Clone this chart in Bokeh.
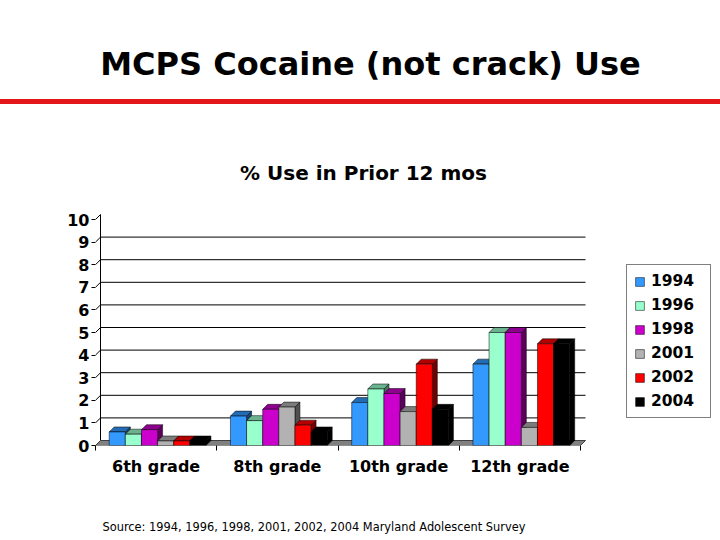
from bokeh.plotting import figure
from bokeh.layouts import column
from bokeh.models import Range1d, FixedTicker, Legend, LegendItem, Label, Div
from bokeh.embed import file_html
from bokeh.resources import INLINE

# data
grades = ["6th grade", "8th grade", "10th grade", "12th grade"]
years = ["1994", "1996", "1998", "2001", "2002", "2004"]
y1994 = [0.6, 1.3, 1.9, 3.6]
y1996 = [0.5, 1.1, 2.5, 5.0]
y1998 = [0.7, 1.6, 2.3, 5.0]
y2001 = [0.2, 1.7, 1.5, 0.8]
y2002 = [0.2, 0.9, 3.6, 4.5]
y2004 = [0.2, 0.6, 1.6, 4.5]
series = [y1994, y1996, y1998, y2001, y2002, y2004]
colors = ["#3399FF", "#99FFCC", "#CC00CC", "#B2B2B2", "#FF0000", "#000000"]
y_ticks = list(range(0, 11))

FONT = "DejaVu Sans"
W = 720


def shade(c, f):
    r, g, b = int(c[1:3], 16), int(c[3:5], 16), int(c[5:7], 16)
    return "#%02x%02x%02x" % (int(r * f), int(g * f), int(b * f))


def text_strip(h):
    # a plain figure used only to hold a text label; frame lines up with the chart
    f = figure(width=W, height=h, x_range=Range1d(0, 1), y_range=Range1d(0, 1),
               toolbar_location=None, tools="", output_backend="svg",
               min_border_left=95, min_border_right=0, min_border_top=0, min_border_bottom=0)
    f.axis.visible = False
    f.grid.visible = False
    f.outline_line_color = None
    return f


# header: slide title
head = text_strip(99)
head.add_layout(Label(x=275, y=36, x_units="screen", y_units="screen",
                      text="MCPS Cocaine (not crack) Use", text_align="center",
                      text_baseline="middle", text_font=FONT, text_font_style="bold",
                      text_font_size="32px", text_color="black"))

# red rule under the title
rule = Div(text="", width=W, height=5, margin=0, styles={"background-color": "#E3161B"})

# main chart: frame x 95..720 and y 104..445 on the page, value 0 at 445, 22.6 px per unit
unit_px = 121.25
x_end = 625 / unit_px
y_end = (445 - 104) / 22.6
dx = 5 / unit_px
dy = 5 / 22.6
w = 0.133

p = figure(width=W, height=394, x_range=Range1d(0, x_end), y_range=Range1d(0, y_end),
           toolbar_location=None, tools="", output_backend="svg",
           min_border_left=95, min_border_right=0, min_border_top=0, min_border_bottom=53)
p.grid.visible = False
p.outline_line_color = None

p.yaxis.ticker = FixedTicker(ticks=y_ticks)
p.yaxis.axis_line_color = None
p.yaxis.major_tick_out = 4
p.yaxis.major_tick_in = 0
p.yaxis.minor_tick_line_color = None
p.yaxis.major_label_standoff = 2
p.yaxis.major_label_text_font = FONT
p.yaxis.major_label_text_font_style = "bold"
p.yaxis.major_label_text_font_size = "16px"
p.yaxis.major_label_text_color = "black"

centers = [i + 0.5 for i in range(len(grades))]
p.xaxis.ticker = FixedTicker(ticks=centers, minor_ticks=list(range(len(grades) + 1)))
p.xaxis.major_label_overrides = {c: g for c, g in zip(centers, grades)}
p.xaxis.axis_line_color = None
p.xaxis.major_tick_line_color = None
p.xaxis.major_tick_out = 0
p.xaxis.major_tick_in = 0
p.xaxis.minor_tick_out = 5
p.xaxis.minor_tick_in = 0
p.xaxis.minor_tick_line_color = "black"
p.xaxis.major_label_standoff = 6
p.xaxis.major_label_text_font = FONT
p.xaxis.major_label_text_font_style = "bold"
p.xaxis.major_label_text_font_size = "16px"
p.xaxis.major_label_text_color = "black"

n = len(grades)
top_v = max(y_ticks)
# back wall gridlines, tick connectors and left wall edge
grid_vals = [v for v in y_ticks if 0 < v < top_v]
p.segment(x0=[dx] * len(grid_vals), y0=[v + dy for v in grid_vals],
          x1=[n + dx] * len(grid_vals), y1=[v + dy for v in grid_vals],
          line_color="black", line_width=1)
p.segment(x0=[0] * len(y_ticks), y0=y_ticks, x1=[dx] * len(y_ticks),
          y1=[v + dy for v in y_ticks], line_color="black", line_width=1)
p.segment(x0=[dx], y0=[dy], x1=[dx], y1=[top_v + dy], line_color="black", line_width=1)
# floor
p.patch([0, n, n + dx, dx], [0, 0, dy, dy], fill_color="#808080", line_color="#404040",
        line_width=1)

items = []
for j, (yr, vals, c) in enumerate(zip(years, series, colors)):
    xc = [k + 0.5 + (j - 2.5) * w + 0.012 for k in range(n)]
    side_xs = [[x + w / 2, x + w / 2 + dx, x + w / 2 + dx, x + w / 2] for x in xc]
    side_ys = [[0, dy, v + dy, v] for v in vals]
    top_xs = [[x - w / 2, x - w / 2 + dx, x + w / 2 + dx, x + w / 2] for x in xc]
    top_ys = [[v, v + dy, v + dy, v] for v in vals]
    p.patches(side_xs, side_ys, fill_color=shade(c, 0.45), line_color="black", line_width=0.5)
    p.patches(top_xs, top_ys, fill_color=shade(c, 0.7), line_color="black", line_width=0.5)
    r = p.vbar(x=xc, top=vals, bottom=0, width=w, fill_color=c, line_color="black",
               line_width=0.5)
    items.append(LegendItem(label=yr, renderers=[r]))

legend = Legend(items=items, location=(531, 27), border_line_color="black",
                border_line_width=1, background_fill_color="white", background_fill_alpha=1,
                glyph_width=11, glyph_height=11, label_standoff=6, padding=7, spacing=6,
                label_width=52, margin=0, label_text_font=FONT, label_text_font_style="bold",
                label_text_font_size="15.5px", label_text_color="black")
p.add_layout(legend)

# chart subtitle, inside the frame above the plotting area
p.add_layout(Label(x=268, y=273, x_units="screen", y_units="screen",
                   text="% Use in Prior 12 mos", text_align="center",
                   text_baseline="middle", text_font=FONT, text_font_style="bold",
                   text_font_size="20px", text_color="black"))

# footer: source note
foot = text_strip(40)
foot.add_layout(Label(x=7, y=12, x_units="screen", y_units="screen",
                      text="Source: 1994, 1996, 1998, 2001, 2002, 2004 Maryland Adolescent Survey",
                      text_align="left", text_baseline="middle", text_font=FONT,
                      text_font_size="11.4px", text_color="black"))

layout = column(head, rule, p, foot, spacing=0)
open("out.html", "w").write(file_html(layout, INLINE))
